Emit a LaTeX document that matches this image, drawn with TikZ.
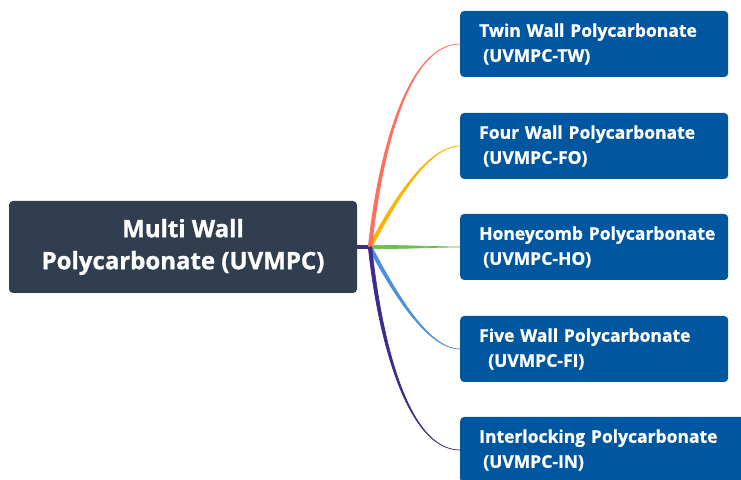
\documentclass[tikz,border=0pt]{standalone}
\usepackage{fontspec}
\setmainfont{Open Sans}[BoldFeatures={FakeBold=1}]
\usetikzlibrary{positioning}
\definecolor{rootfill}{RGB}{48,62,79}
\definecolor{leaffill}{RGB}{0,87,160}
\definecolor{lred}{RGB}{255,111,94}
\definecolor{lorange}{RGB}{255,179,0}
\definecolor{lgreen}{RGB}{107,192,75}
\definecolor{lblue}{RGB}{74,143,224}
\definecolor{lpurple}{RGB}{61,43,142}
\tikzset{
    rootbox/.style={rectangle, rounded corners=4pt, fill=rootfill, text=white,
        font=\fontsize{24}{32}\selectfont\bfseries, align=center,
        minimum width=348pt, minimum height=92pt},
    leafbox/.style={rectangle, rounded corners=4pt, fill=leaffill, text=white,
        font=\fontsize{17.5}{25}\selectfont\bfseries, align=left,
        inner xsep=19pt, text width=230pt, minimum height=66pt, anchor=west},
}
\begin{document}
\begin{tikzpicture}[x=1pt,y=1pt]
\clip (0,0) rectangle (741,479);
\node[rootbox] (main) at (183,232) {Multi Wall\\Polycarbonate (UVMPC)};
\coordinate (hub) at (370,232);
\node[leafbox] (b1) at (460,435) {\mbox{Twin Wall Polycarbonate}\\\hspace*{4pt}(UVMPC-TW)};
\node[leafbox] (b2) at (460,333) {\mbox{Four Wall Polycarbonate}\\\hspace*{4pt}(UVMPC-FO)};
\node[leafbox] (b3) at (460,232) {\mbox{Honeycomb Polycarbonate}\\\hspace*{4pt}(UVMPC-HO)};
\node[leafbox] (b4) at (460,130) {\mbox{Five Wall Polycarbonate}\\\hspace*{9pt}(UVMPC-FI)};
\node[leafbox, text width=280pt] (b5) at (460,29) {\mbox{Interlocking Polycarbonate}\\\hspace*{4pt}(UVMPC-IN)};
\draw[lpurple, line width=3.5pt] (main.east) -- (hub);
\foreach \i/\col/\ang/\lo in {3/lgreen/0/1, 4/lblue/-62/1, 2/lorange/62/1, 1/lred/84/1.1, 5/lpurple/-84/1.1}
    \filldraw[\col, line width=0.7pt] ([shift={(\ang+90:1.7pt)}]hub)
        to[out=\ang, in=180, out looseness=\lo, in looseness=0.6] (b\i.west)
        to[out=180, in=\ang, out looseness=0.6, in looseness=\lo] ([shift={(\ang-90:1.7pt)}]hub) -- cycle;
\end{tikzpicture}
\end{document}
